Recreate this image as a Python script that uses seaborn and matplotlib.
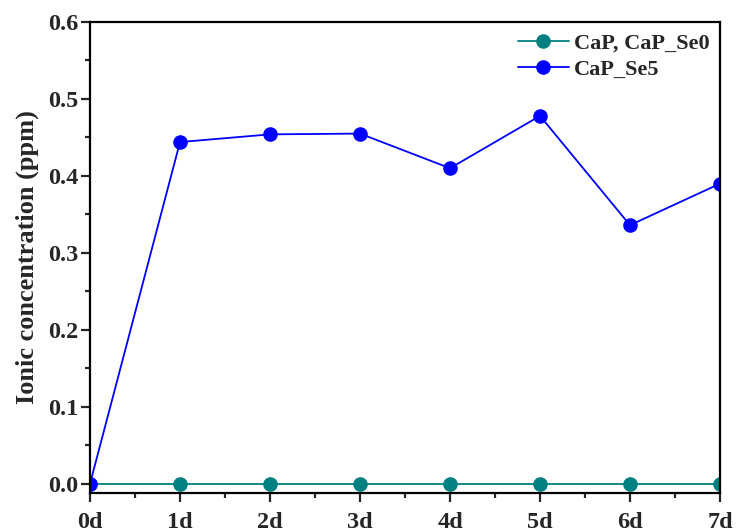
import matplotlib
matplotlib.use("Agg")
import matplotlib.pyplot as plt
from matplotlib.ticker import MultipleLocator, AutoMinorLocator, FormatStrFormatter
import seaborn as sns
import pandas as pd

days = ["0d", "1d", "2d", "3d", "4d", "5d", "6d", "7d"]
cap_se0 = [0, 0, 0, 0, 0, 0, 0, 0]
cap_se5 = [0, 0.444, 0.454, 0.455, 0.410, 0.478, 0.336, 0.390]
series_names = ["CaP, CaP_Se0", "CaP_Se5"]
colors = ["#008080", "#0000FF"]

df = pd.DataFrame({
    "day": list(range(len(days))) * 2,
    "value": cap_se0 + cap_se5,
    "series": [series_names[0]] * len(days) + [series_names[1]] * len(days),
})

sns.set_style("ticks")
plt.rcParams["font.family"] = ["Liberation Serif", "DejaVu Serif"]
plt.rcParams["font.weight"] = "bold"

fig = plt.figure(figsize=(7.37, 5.28), dpi=100)
ax = fig.add_axes([90 / 737, 35 / 528, 630 / 737, 471 / 528])

sns.lineplot(data=df, x="day", y="value", hue="series", hue_order=series_names,
             palette=colors, marker="o", markersize=10.5, markeredgewidth=0,
             linewidth=1.3, ax=ax, sort=False)

ax.set_xlim(0, 7)
ax.set_ylim(-0.012, 0.6)
ax.set_xticks(range(len(days)))
ax.set_xticklabels(days)
ax.xaxis.set_minor_locator(AutoMinorLocator(2))
ax.yaxis.set_major_locator(MultipleLocator(0.1))
ax.yaxis.set_minor_locator(MultipleLocator(0.05))
ax.yaxis.set_major_formatter(FormatStrFormatter("%.1f"))

for s in ax.spines.values():
    s.set_visible(True)
    s.set_linewidth(1.6)
    s.set_color("black")
ax.tick_params(which="major", direction="out", length=6.5, width=1.6,
               labelsize=17.5, pad=2)
ax.tick_params(axis="x", which="major", pad=7.5)
ax.tick_params(which="minor", direction="out", length=3.5, width=1.6)
for lbl in ax.get_xticklabels() + ax.get_yticklabels():
    lbl.set_fontweight("bold")

ax.set_xlabel("")
ax.set_ylabel("Ionic concentration (ppm)", fontsize=19, fontweight="bold", labelpad=6)

leg = ax.legend(loc="upper right", frameon=False, fontsize=16,
                bbox_to_anchor=(1.005, 1.005), handlelength=2.3, handletextpad=0.25,
                labelspacing=0.25, borderaxespad=0.2)
for t in leg.get_texts():
    t.set_fontweight("bold")

fig.savefig("out.png", dpi=100)
